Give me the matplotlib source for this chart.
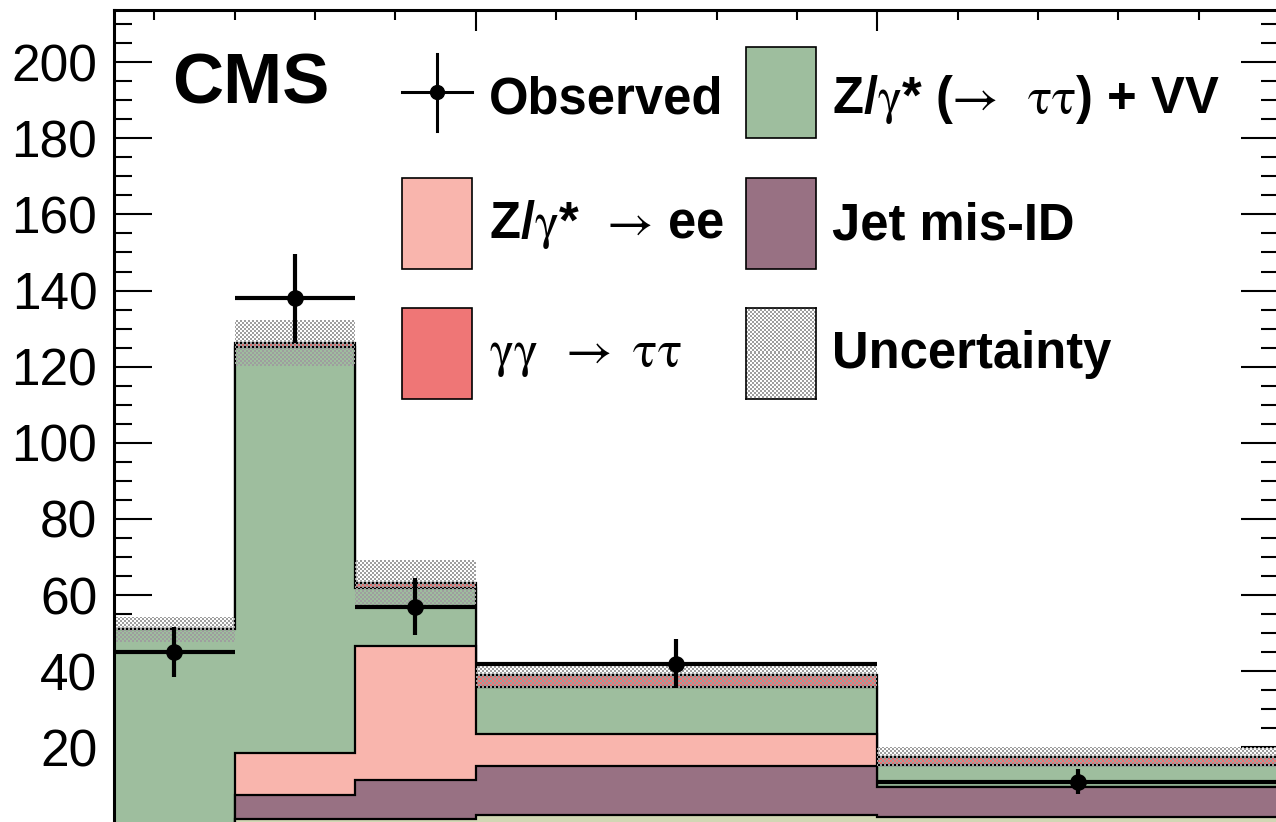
import numpy as np
import matplotlib
matplotlib.use('Agg')
import matplotlib.pyplot as plt
from matplotlib.patches import Rectangle
from matplotlib.lines import Line2D
from matplotlib.ticker import MultipleLocator

plt.rcParams['font.family'] = ['Liberation Sans', 'DejaVu Sans']
plt.rcParams['mathtext.fontset'] = 'custom'
plt.rcParams['mathtext.rm'] = 'STIXGeneral'
plt.rcParams['mathtext.it'] = 'STIXGeneral'
plt.rcParams['mathtext.bf'] = 'STIXGeneral:bold'

# bin edges and stacked expectations (events per bin)
edges = [1, 4, 7, 10, 20, 30]
other_bkg = [0, 1.1, 1.1, 2.2, 1.8]
jet_misid = [0, 6.4, 10.3, 12.9, 7.9]
z_ee = [0, 11.1, 35.2, 8.4, 0]
z_tautau_vv = [51.0, 106.5, 15.2, 12.4, 5.6]
gg_tautau = [0, 1.2, 1.5, 3.1, 2.1]
unc = [3.2, 6.0, 6.0, 3.3, 2.6]

observed = [45, 138, 57, 42, 11]
obs_err = [6.6, 11.7, 7.5, 6.5, 3.3]

c_other = '#d1d7b4'
c_jet = '#987183'
c_zee = '#f9b5ad'
c_ztt = '#9ebe9e'
c_gg = '#ef7676'


def checker(h, w, cell=2):
    # grey/transparent checkerboard used as the uncertainty fill
    i, j = np.indices((h, w))
    on = ((i // cell + j // cell) % 2) == 0
    img = np.zeros((h, w, 4))
    img[..., :3] = 0.62
    img[..., 3] = on * 1.0
    return img


W, H = 1276, 822
fig = plt.figure(figsize=(W / 100, H / 100), dpi=100)
# axes frame in pixels: left 114, right 1279, top 10, bottom 823.5
ax = fig.add_axes([114 / W, (H - 823.5) / H, (1279 - 114) / W, (823.5 - 10) / H])

edges = np.array(edges)
layers = [other_bkg, jet_misid, z_ee, z_tautau_vv, gg_tautau]
colors = [c_other, c_jet, c_zee, c_ztt, c_gg]
cum = np.cumsum(np.array(layers), axis=0)

# draw cumulative histograms from the top down, like a THStack
for i in range(len(layers) - 1, -1, -1):
    ax.stairs(cum[i], edges, baseline=0, fill=True, facecolor=colors[i],
              edgecolor='black', linewidth=1.6, zorder=2)

ax.set_xlim(1, 30)
ax.set_ylim(0, 213.7)

total = cum[-1]
unc = np.array(unc)
band = ax.stairs(total + unc, edges, baseline=total - unc, fill=True,
                 facecolor='none', linewidth=0, zorder=3)
im = ax.imshow(checker(814, 1165), extent=(1, 30, 0, 213.7), aspect='auto',
               interpolation='nearest', zorder=3)
im.set_clip_path(band)

centers = 0.5 * (edges[1:] + edges[:-1])
halfw = 0.5 * (edges[1:] - edges[:-1])
ax.errorbar(centers, observed, xerr=halfw, yerr=obs_err, fmt='o', color='black',
            markersize=11, elinewidth=3, capsize=0, zorder=5)

ax.set_xlim(1, 30)
ax.set_ylim(0, 213.7)
ax.set_yticks(np.arange(20, 201, 20))
ax.yaxis.set_minor_locator(MultipleLocator(5))
ax.xaxis.set_major_locator(MultipleLocator(10))
ax.xaxis.set_minor_locator(MultipleLocator(2))
ax.tick_params(which='both', direction='in', top=True, right=True, width=1.5,
               labelbottom=False)
ax.tick_params(axis='y', which='major', length=27.5, labelsize=37, pad=12)
ax.tick_params(axis='y', which='minor', length=13)
ax.tick_params(axis='x', which='major', length=15)
ax.tick_params(axis='x', which='minor', length=7.5)
for s in ax.spines.values():
    s.set_linewidth(2.2)
    s.set_zorder(6)

fig.text(172 / W, 1 - 103 / H, 'CMS', fontsize=51, fontweight='bold',
         ha='left', va='baseline')


# hand-built legend, positions in figure pixels
def fx(x):
    return x / W


def fy(y):
    return 1 - y / H


def box(x0, y0, color):
    r = Rectangle((fx(x0), fy(y0 + 91)), 70 / W, 91 / H, transform=fig.transFigure,
                  facecolor=color, edgecolor='black', linewidth=1.2)
    fig.add_artist(r)


leg_fs = 36.5
rows = [47, 178, 308]
x1, x2 = 402, 746

# Observed marker
fig.add_artist(Line2D([fx(402), fx(472)], [fy(92.5), fy(92.5)], color='black', lw=2.2))
fig.add_artist(Line2D([fx(437), fx(437)], [fy(54), fy(131)], color='black', lw=2.2))
fig.add_artist(Line2D([fx(437)], [fy(92.5)], marker='o', markersize=10, color='black'))
fig.text(fx(489), fy(113), 'Observed', fontsize=leg_fs, fontweight='bold', va='baseline')

box(x1, rows[1], c_zee)
fig.text(fx(489), fy(238), 'Z/$\\gamma$*  $\u2192$ ee', fontsize=leg_fs,
         fontweight='bold', va='baseline')
box(x1, rows[2], c_gg)
fig.text(fx(489), fy(366), '$\\gamma\\gamma$  $\u2192$ $\\,\\tau\\tau$', fontsize=leg_fs,
         va='baseline')

box(x2, rows[0], c_ztt)
fig.text(fx(832), fy(113), 'Z/$\\gamma$* ($\u2192$  $\\tau\\tau$) + VV', fontsize=leg_fs,
         fontweight='bold', va='baseline')
box(x2, rows[1], c_jet)
fig.text(fx(832), fy(240), 'Jet mis-ID', fontsize=leg_fs, fontweight='bold', va='baseline')

# uncertainty swatch: checkerboard in a small axes
lax = fig.add_axes([fx(x2), fy(rows[2] + 91), 70 / W, 91 / H])
lax.imshow(checker(91, 70), aspect='auto', interpolation='nearest')
lax.set_facecolor('white')
lax.set_xticks([])
lax.set_yticks([])
for s in lax.spines.values():
    s.set_linewidth(1.2)
fig.text(fx(832), fy(368), 'Uncertainty', fontsize=leg_fs, fontweight='bold', va='baseline')

fig.savefig('out.png', dpi=100)
